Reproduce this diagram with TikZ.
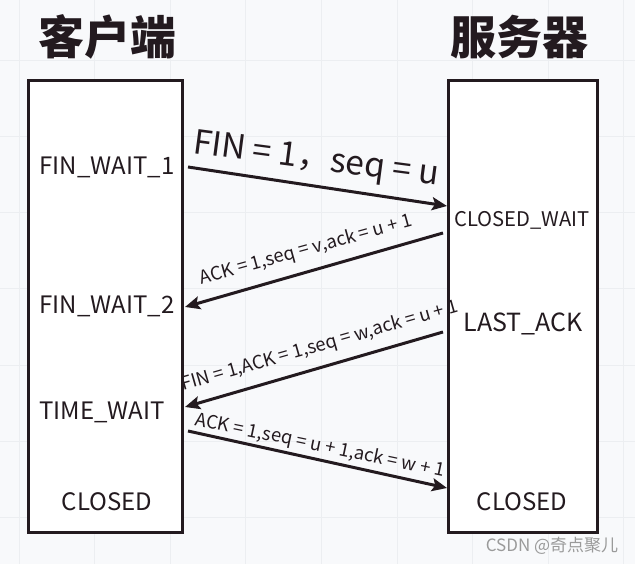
\documentclass[tikz,border=0pt]{standalone}
\usepackage{fontspec}
\setmainfont{Noto Sans CJK SC}
\usetikzlibrary{arrows.meta}
\definecolor{ink}{HTML}{231A1F}
\definecolor{bgc}{HTML}{F8F9FB}
\definecolor{gridc}{HTML}{ECEEF1}
\definecolor{wm}{HTML}{9A9A9A}
\tikzset{
  box/.style={draw=ink, fill=white, line width=3pt, rectangle, inner sep=0pt},
  arr/.style={draw=ink, line width=3pt, -{Stealth[length=15pt,width=13pt,inset=3pt]}},
  st/.style={text=ink, inner sep=0pt, font=\fontsize{24}{24}\selectfont},
  lbl/.style={text=ink, inner sep=0pt, font=\fontsize{18.4}{18.4}\selectfont},
  ttl/.style={text=ink, inner sep=0pt, font=\fontsize{46}{46}\selectfont\bfseries},
}
\begin{document}
\begin{tikzpicture}[x=1pt,y=-1pt]
\fill[bgc] (0,0) rectangle (635,564);
\useasboundingbox (0,0) rectangle (635,564);
\foreach \i in {0,...,8} \draw[gridc, line width=1pt] ({19+75.6*\i},0) -- ++(0,564);
\foreach \j in {-1,...,6} \draw[gridc, line width=1pt] (0,{61+76*\j}) -- ++(635,0);

\node[ttl] (tc) at (107,37) {客户端};
\node[ttl] (ts) at (519,37) {服务器};

\node[box, minimum width=154pt, minimum height=451pt] (client) at (105.5,306.5) {};
\node[box, minimum width=149pt, minimum height=451pt] (server) at (522.5,306.5) {};

\node[st] (fw1) at (107,167) {FIN\_WAIT\_1};
\node[st] (fw2) at (107,306) {FIN\_WAIT\_2};
\node[st] (tw) at (102,412) {TIME\_WAIT};
\node[st] (cc) at (107,502) {CLOSED};
\node[text=ink, inner sep=0pt, font=\fontsize{20.2}{20.2}\selectfont] (cw) at (522,220) {CLOSED\_WAIT};
\node[text=ink, inner sep=0pt, font=\fontsize{25}{25}\selectfont] (la) at (523,324) {LAST\_ACK};
\node[st] (sc) at (522,502) {CLOSED};

\coordinate (a1s) at (188,167);
\coordinate (a1e) at (447,206);
\coordinate (a2s) at (443,233);
\coordinate (a2e) at (185,307);
\coordinate (a3s) at (443,332);
\coordinate (a3e) at (185,407);
\coordinate (a4s) at (188,431);
\coordinate (a4e) at (447,488);
\draw[arr] (a1s) -- (a1e);
\draw[arr] (a2s) -- (a2e);
\draw[arr] (a3s) -- (a3e);
\draw[arr] (a4s) -- (a4e);

\node[text=ink, inner sep=0pt, font=\fontsize{33.5}{33.5}\selectfont, rotate=-7.5] (l1) at (316,161) {FIN = 1，seq = u};
\node[lbl, rotate=15.5] (l2) at (306,250) {ACK = 1,seq = v,ack = u + 1};
\node[lbl, rotate=16] (l3) at (320,346) {FIN = 1,ACK = 1,seq = w,ack = u + 1};
\node[lbl, rotate=-11.8] (l4) at (320,446) {ACK = 1,seq = u + 1,ack = w + 1};

\node[text=wm, inner sep=0pt, font=\fontsize{17}{17}\selectfont] (wmk) at (552,546) {CSDN @奇点聚儿};
\end{tikzpicture}
\end{document}
